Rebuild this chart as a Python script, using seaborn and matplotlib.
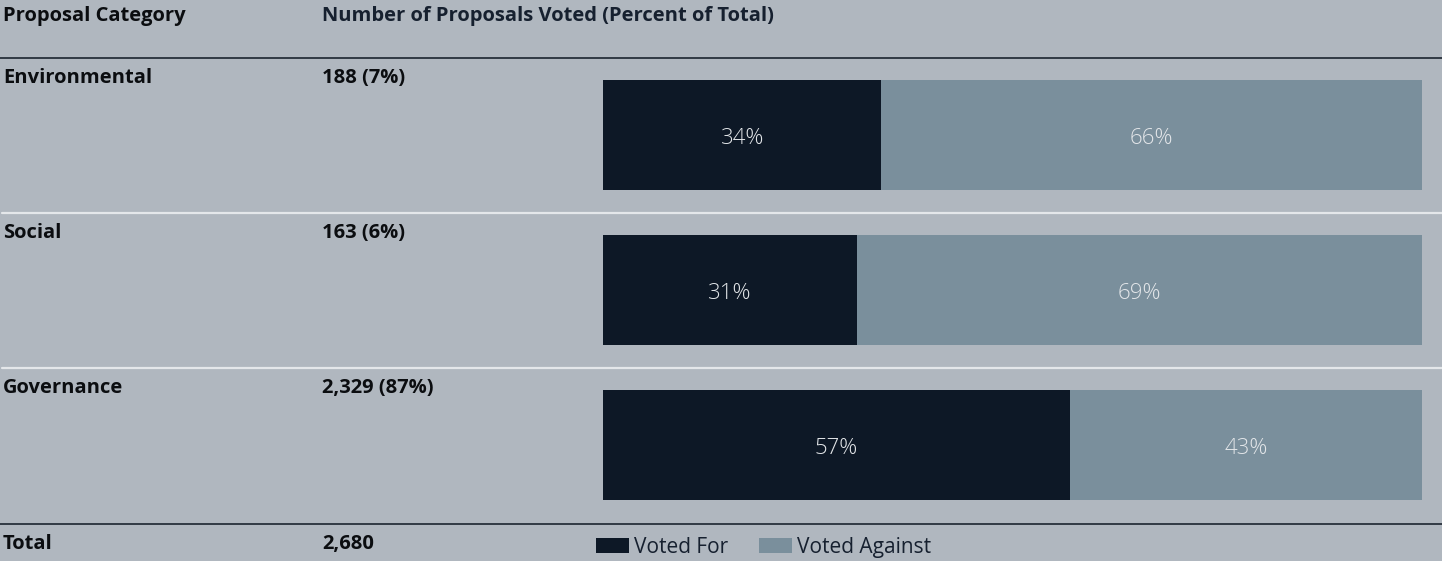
import matplotlib
matplotlib.use("Agg")
import matplotlib.pyplot as plt
import pandas as pd
import seaborn as sns

# Proxy-vote breakdown by proposal category
categories = ["Environmental", "Social", "Governance"]
proposal_counts = ["188 (7%)", "163 (6%)", "2,329 (87%)"]
voted_for = [34, 31, 57]
voted_against = [66, 69, 43]
total_label = "2,680"

BG = "#b0b7bf"
DARK = "#0d1826"
LIGHT = "#7a8f9c"
NAVY = "#16202f"
INK = "#0b0d10"

sns.set_theme(style="white")
plt.rcParams["font.family"] = ["Open Sans", "DejaVu Sans"]

W, H = 1442, 561
fig = plt.figure(figsize=(W / 100, H / 100), dpi=100, facecolor=BG)


def fx(px):
    return px / W


def fy(py):
    return 1 - py / H


df = pd.DataFrame({
    "category": categories,
    "for": voted_for,
    "against": voted_against,
})
df["stack"] = df["for"] + df["against"]

# bar area
ax = fig.add_axes([fx(603), fy(500), fx(1422) - fx(603), (500 - 80) / H])
ax.set_facecolor("none")
bar_w = 110 / 155
sns.barplot(data=df, y="category", x="stack", orient="h", color=LIGHT,
            width=bar_w, saturation=1, linewidth=0, ax=ax, label="Voted Against")
sns.barplot(data=df, y="category", x="for", orient="h", color=DARK,
            width=bar_w, saturation=1, linewidth=0, ax=ax, label="Voted For")
ax.set_xlim(0, 100)
ax.set_ylim(2 + bar_w / 2, -bar_w / 2)
ax.axis("off")

for i, row in df.iterrows():
    segs = [(row["for"] / 2, row["for"]),
            (row["for"] + row["against"] / 2, row["against"])]
    for xc, val in segs:
        ax.annotate(f"{val}%", (xc, i), xytext=(0, -2.5), textcoords="offset points",
                    ha="center", va="center", color="#e3e6e9", fontsize=16,
                    fontweight="light")

LBL = 14.5

# table header
fig.text(fx(3), fy(16), "Proposal Category", fontsize=LBL, fontweight="bold",
         color=INK, va="center")
fig.text(fx(322), fy(16), "Number of Proposals Voted (Percent of Total)",
         fontsize=LBL, fontweight="bold", color=NAVY, va="center")

# rule lines
fig.add_artist(plt.Line2D([0, 1], [fy(57.5), fy(57.5)], color="#1c2530", lw=1.2))
for py in (213, 368):
    fig.add_artist(plt.Line2D([fx(2), 1], [fy(py), fy(py)], color="#e4e7ea", lw=1.6))
fig.add_artist(plt.Line2D([0, 1], [fy(523.5), fy(523.5)], color="#1c2530", lw=1.2))

# row labels
for i, (cat, cnt) in enumerate(zip(categories, proposal_counts)):
    py = 78 + 155 * i
    fig.text(fx(3), fy(py), cat, fontsize=LBL, fontweight="bold", color=INK, va="center")
    fig.text(fx(322), fy(py), cnt, fontsize=LBL, fontweight="bold", color=INK, va="center")

fig.text(fx(3), fy(544), "Total", fontsize=LBL, fontweight="bold", color=INK, va="center")
fig.text(fx(322), fy(544), total_label, fontsize=LBL, fontweight="bold", color=INK, va="center")

# legend
handles, labels = ax.get_legend_handles_labels()
order = [labels.index("Voted For"), labels.index("Voted Against")]
leg = fig.legend([handles[k] for k in order], [labels[k] for k in order],
                 loc="center left", bbox_to_anchor=(fx(588), fy(547.5)),
                 ncol=2, frameon=False, fontsize=15,
                 handlelength=1.55, handleheight=0.72, handletextpad=0.25,
                 columnspacing=1.5, labelcolor=NAVY, borderaxespad=0, borderpad=0.4)
if ax.get_legend() is not None:
    ax.get_legend().remove()

fig.savefig("out.png", dpi=100, facecolor=BG)
